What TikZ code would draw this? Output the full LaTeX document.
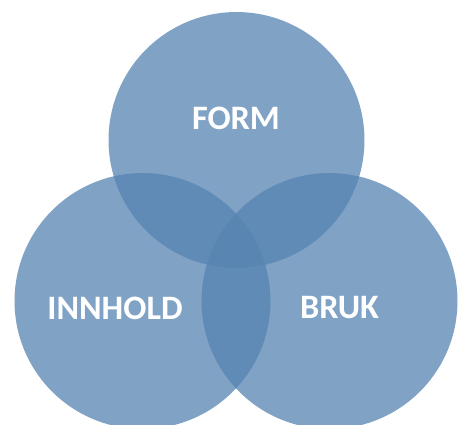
\documentclass[tikz,border=0pt]{standalone}
\usepackage{fontspec}
\setmainfont{Carlito}
\usepackage{xcolor}
\usepackage{tikz}
\usetikzlibrary{positioning}

\definecolor{vennblue}{RGB}{85,131,177}

\begin{document}
\begin{tikzpicture}[x=0.02cm, y=-0.02cm,
        set/.style={
                circle,
                inner sep=0pt,
                minimum size=5.12cm,
                fill=vennblue,
                fill opacity=0.75,
        },
        setlabel/.style={
                text=white,
                font=\fontsize{19.5}{23}\selectfont\bfseries,
        }]
            \clip (0, 0) rectangle (460, 424);
            \node[set] (form) at (236.5, 140) {};
            \node[set] (innhold) at (142.5, 301) {};
            \node[set] (bruk) at (329.5, 301) {};
            \node[setlabel] (formtext) at (236, 118) {FORM};
            \node[setlabel] (innholdtext) at (115, 308) {INNHOLD};
            \node[setlabel] (bruktext) at (339.5, 308) {BRUK};
        \end{tikzpicture}
\end{document}
